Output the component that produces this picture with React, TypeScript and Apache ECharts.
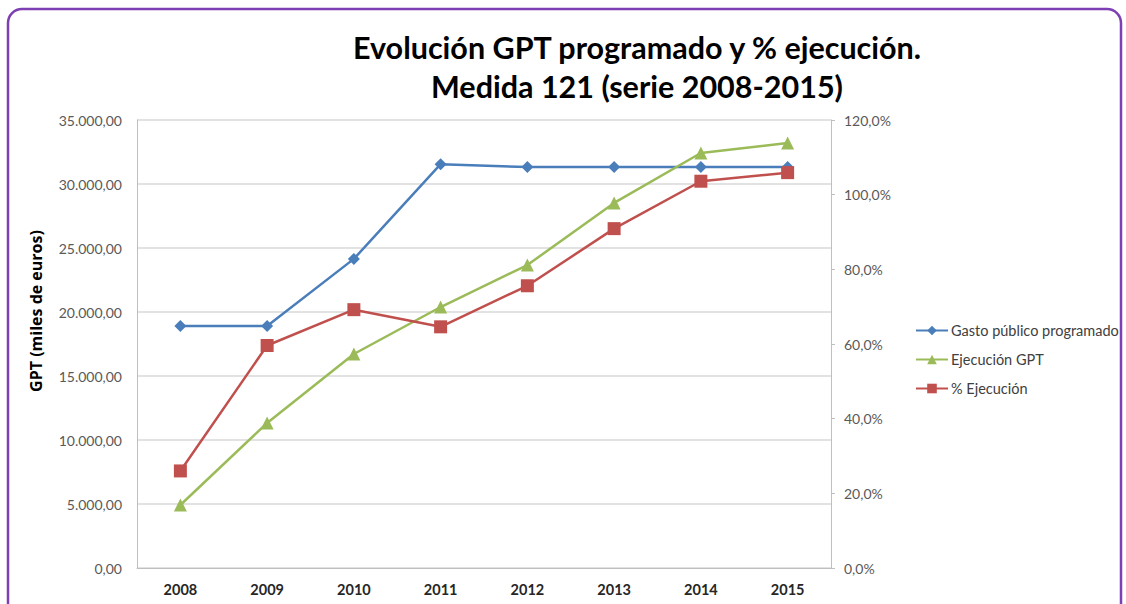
import React, { useEffect, useRef } from "react";
import * as echarts from "echarts";

const years = ["2008", "2009", "2010", "2011", "2012", "2013", "2014", "2015"];
const gastoProgramado = [18900, 18900, 24150, 31550, 31320, 31320, 31320, 31320];
const ejecucionGPT = [4920, 11330, 16720, 20390, 23670, 28520, 32420, 33200];
const pctEjecucion = [26.0, 59.6, 69.2, 64.6, 75.6, 90.9, 103.6, 105.9];

const titleText = "Evolución GPT programado y % ejecución.\nMedida 121 (serie 2008-2015)";
const leftAxisName = "GPT (miles de euros)";
const seriesNames = ["Gasto público programado", "Ejecución GPT", "% Ejecución"];

const fmtThousands = (v: number) => {
  const s = v.toFixed(2).split(".");
  const int = s[0].replace(/\B(?=(\d{3})+(?!\d))/g, ".");
  return int + "," + s[1];
};
const fmtPct = (v: number) => v.toFixed(1).replace(".", ",") + "%";

const FONT = "Lato, 'Open Sans', sans-serif";

export default function App() {
  const ref = useRef<HTMLDivElement>(null);
  useEffect(() => {
    if (!ref.current) return;
    const chart = echarts.init(ref.current, undefined, { renderer: "svg" });
    chart.setOption({
      animation: false,
      backgroundColor: "#ffffff",
      textStyle: { fontFamily: FONT },
      graphic: [
        {
          type: "rect",
          shape: { x: 8, y: 9, width: 1113, height: 640, r: 14 },
          style: { fill: "none", stroke: "#7E3FB5", lineWidth: 2.5 },
          silent: true,
        },
        {
          type: "text",
          x: 36,
          y: 311,
          rotation: Math.PI / 2,
          style: {
            text: leftAxisName,
            fontFamily: "'Open Sans', sans-serif",
            fontSize: 16,
            fontWeight: "bold",
            fill: "#000000",
            align: "center",
            verticalAlign: "middle",
          },
          silent: true,
        },
      ],
      title: {
        text: titleText,
        left: 632,
        textAlign: "center",
        top: 22,
        textStyle: {
          fontFamily: FONT,
          fontSize: 30.5,
          fontWeight: "bold",
          color: "#000000",
          lineHeight: 39,
        },
      },
      legend: {
        orient: "vertical",
        left: 910,
        top: 318,
        itemGap: 14,
        itemWidth: 32,
        itemHeight: 12,
        textStyle: { fontFamily: FONT, fontSize: 14.5, color: "#404040", padding: [0, 0, 0, -2] },
        data: seriesNames,
      },
      grid: { left: 137, right: 295, top: 120, bottom: 36, containLabel: false },
      xAxis: {
        type: "category",
        data: years,
        boundaryGap: true,
        axisLine: { show: true, lineStyle: { color: "#BFBFBF", width: 1 } },
        axisTick: { show: false },
        axisLabel: {
          fontFamily: FONT,
          fontSize: 14.5,
          fontWeight: "bold",
          color: "#262626",
          margin: 14,
        },
      },
      yAxis: [
        {
          type: "value",
          min: 0,
          max: 35000,
          interval: 5000,
          axisLine: { show: true, lineStyle: { color: "#BFBFBF", width: 1 } },
          axisTick: { show: false },
          axisLabel: {
            fontFamily: FONT,
            fontSize: 14,
            color: "#595959",
            margin: 15,
            formatter: (v: number) => fmtThousands(v),
          },
          splitLine: { show: true, lineStyle: { color: "#D9D9D9", width: 1.5 } },
        },
        {
          type: "value",
          min: 0,
          max: 120,
          interval: 20,
          position: "right",
          axisLine: { show: true, lineStyle: { color: "#BFBFBF", width: 1 } },
          axisTick: { show: true, length: 4, inside: false, lineStyle: { color: "#BFBFBF" } },
          axisLabel: {
            fontFamily: FONT,
            fontSize: 14,
            color: "#595959",
            margin: 13,
            formatter: (v: number) => fmtPct(v),
          },
          splitLine: { show: false },
        },
      ],
      series: [
        {
          name: seriesNames[0],
          type: "line",
          yAxisIndex: 0,
          data: gastoProgramado,
          symbol: "diamond",
          symbolSize: 12,
          lineStyle: { color: "#4A7EBB", width: 2.5 },
          itemStyle: { color: "#4A7EBB" },
        },
        {
          name: seriesNames[1],
          type: "line",
          yAxisIndex: 0,
          data: ejecucionGPT,
          symbol: "triangle",
          symbolSize: 13,
          lineStyle: { color: "#9BBB59", width: 2.5 },
          itemStyle: { color: "#9BBB59" },
        },
        {
          name: seriesNames[2],
          type: "line",
          yAxisIndex: 1,
          data: pctEjecucion,
          symbol: "rect",
          symbolSize: 13,
          lineStyle: { color: "#C0504D", width: 2.5 },
          itemStyle: { color: "#C0504D" },
        },
      ],
    });
    return () => chart.dispose();
  }, []);
  return (
    <div
      ref={ref}
      style={{ position: "fixed", left: 0, top: 0, width: 1126, height: 604 }}
    />
  );
}
